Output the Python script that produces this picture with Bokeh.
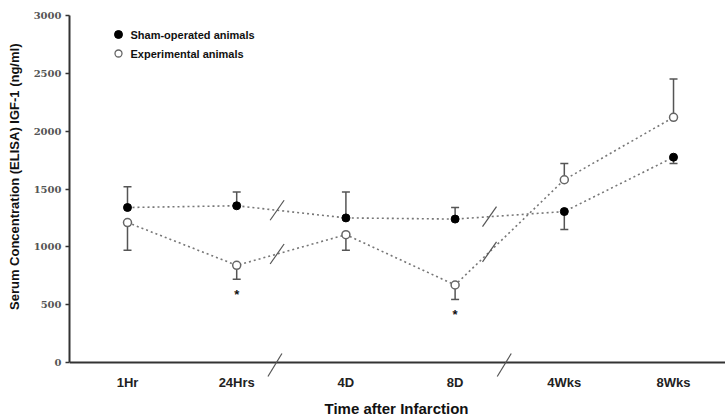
import numpy as np
from bokeh.plotting import figure
from bokeh.models import Range1d, FixedTicker
from bokeh.core.properties import value
from bokeh.embed import file_html
from bokeh.resources import INLINE

# ---------------- data ----------------
categories = ["1Hr", "24Hrs", "4D", "8D", "4Wks", "8Wks"]
sham_mean = [1340, 1355, 1250, 1240, 1305, 1775]
sham_err = [180, 120, 225, 100, 155, 55]
sham_dir = [1, 1, 1, 1, -1, -1]
exp_mean = [1210, 840, 1105, 670, 1580, 2120]
exp_err = [240, 120, 135, 125, 140, 330]
exp_dir = [-1, -1, -1, -1, 1, 1]
sig_index = [1, 3]
y_ticks = [0, 500, 1000, 1500, 2000, 2500, 3000]
line_break_x = [2.37, 4.315]
axis_break_x = [2.35, 4.45]
series_names = ["Sham-operated animals", "Experimental animals"]
x_title = "Time after Infarction"
y_title = "Serum Concentration (ELISA) IGF-1 (ng/ml)"

# ---------------- layout ----------------
W, H = 725, 417
B_LEFT, B_RIGHT, B_TOP, B_BOTTOM = 69, 0, 15, 0
X0, X1 = 0.4689, 6.476
fw = W - B_LEFT - B_RIGHT
fh = H - B_TOP - B_BOTTOM
KY_PX = 347 / 3000.0          # px per data unit
Y1 = 3000
Y0 = Y1 - fh / KY_PX          # frame reaches the bottom of the figure
kx = (X1 - X0) / fw           # data per px
ky = 1 / KY_PX

xs = np.arange(1, len(categories) + 1)

p = figure(width=W, height=H, output_backend="svg", toolbar_location=None,
           x_range=Range1d(X0, X1), y_range=Range1d(Y0, Y1),
           min_border_left=B_LEFT, min_border_right=B_RIGHT,
           min_border_top=B_TOP, min_border_bottom=B_BOTTOM)
p.outline_line_color = None
p.grid.visible = False
p.background_fill_color = "white"
p.xaxis.visible = False

# y axis
ya = p.yaxis[0]
ya.ticker = FixedTicker(ticks=y_ticks)
ya.bounds = (0, 3000)
ya.minor_tick_line_color = None
ya.major_tick_in = 0
ya.major_tick_out = 4
ya.major_tick_line_color = "#333333"
ya.major_tick_line_width = 1.5
ya.axis_line_color = "#333333"
ya.axis_line_width = 2
ya.major_label_text_font = "DejaVu Serif"
ya.major_label_text_font_style = "bold"
ya.major_label_text_font_size = "10px"
ya.major_label_text_color = "#555555"
ya.major_label_standoff = 4
# leading no-break spaces shift the (frame-centred) title upward
ya.axis_label = "\u00a0" * 22 + y_title
ya.axis_label_text_font = "Liberation Sans"
ya.axis_label_text_font_style = "bold"
ya.axis_label_text_font_size = "13px"
ya.axis_label_text_color = "#111111"
ya.axis_label_standoff = 9

# x axis drawn with glyphs
p.segment([X0], [0], [X1], [0], line_color="#333333", line_width=2)
p.text(xs, [-20 * ky] * len(xs), text=categories, text_align="center",
       text_baseline="middle", text_font=value("Liberation Sans"),
       text_font_style="bold", text_font_size="13px", text_color="#222222")
p.text([(X0 + X1) / 2 - 1 * kx], [-46 * ky], text=[x_title], text_align="center",
       text_baseline="middle", text_font=value("Liberation Sans"),
       text_font_style="bold", text_font_size="15px", text_color="#111111")

line_col = "#777777"
err_col = "#555555"
cap = 4 * kx

def draw_series(mean, err, direction, filled):
    mean = np.array(mean, float)
    end = mean + np.array(direction) * np.array(err)
    p.line(xs, mean, line_color=line_col, line_width=1.6, line_dash="2 3")
    p.segment(xs, mean, xs, end, line_color=err_col, line_width=1.5)
    p.segment(xs - cap, end, xs + cap, end, line_color=err_col, line_width=1.5)
    if filled:
        p.scatter(xs, mean, size=8, marker="circle", fill_color="black",
                  line_color="black")
    else:
        p.scatter(xs, mean, size=8, marker="circle", fill_color="white",
                  line_color="#666666", line_width=1.5)
    return end

draw_series(sham_mean, sham_err, sham_dir, True)
exp_end = draw_series(exp_mean, exp_err, exp_dir, False)

# break marks on the lines
for bx in line_break_x:
    for m in (sham_mean, exp_mean):
        yb = float(np.interp(bx, xs, m))
        p.segment(bx - 7 * kx, yb - 10 * ky, bx + 7 * kx, yb + 10 * ky,
                  line_color="#555555", line_width=1.2)
# break marks on x axis
for bx in axis_break_x:
    yc = -2.5 * ky
    p.segment(bx - 7 * kx, yc - 11.5 * ky, bx + 7 * kx, yc + 11.5 * ky,
              line_color="#555555", line_width=1.2)

# significance asterisks
sx = [float(xs[i]) for i in sig_index]
sy = [float(exp_end[i]) - 15 * ky for i in sig_index]
p.text(sx, sy, text=["*"] * len(sx), text_align="center", text_baseline="middle",
       text_font=value("Liberation Sans"), text_font_style="bold",
       text_font_size="13px", text_color="#111111")

# legend (manual)
lx = X0 + 49 * kx
ly = [Y1 - 19 * ky, Y1 - 38 * ky]
p.scatter([lx], [ly[0]], size=8, marker="circle", fill_color="black", line_color="black")
p.scatter([lx], [ly[1]], size=7, marker="circle", fill_color="white",
          line_color="#666666", line_width=1.3)
p.text([lx + 12 * kx] * 2, ly, text=series_names, text_align="left",
       text_baseline="middle", text_font=value("Liberation Sans"),
       text_font_style="bold", text_font_size="11px", text_color="#111111")

open("out.html", "w").write(file_html(p, INLINE))
